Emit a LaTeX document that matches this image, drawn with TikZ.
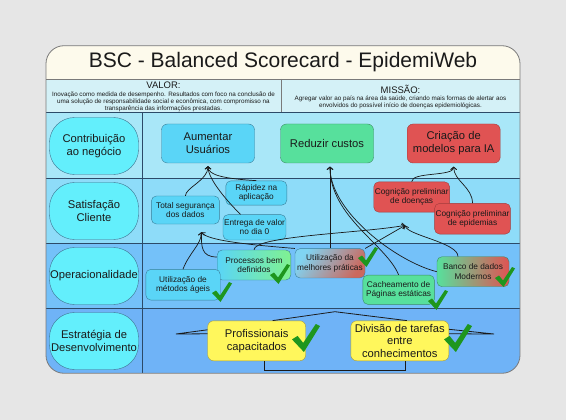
\documentclass[tikz,border=0pt]{standalone}
\usepackage{fontspec}
\setmainfont{Liberation Sans}
\usepackage{tikz}
\usetikzlibrary{arrows.meta,calc}
\definecolor{PageGray}{HTML}{E6E6E6}
\definecolor{FrameGray}{HTML}{7A7A7A}
\definecolor{TitleCream}{HTML}{FDFAEC}
\definecolor{ValorCyan}{HTML}{D4F1F7}
\definecolor{RowOne}{HTML}{A9E7F8}
\definecolor{RowTwo}{HTML}{8EDCF9}
\definecolor{RowThree}{HTML}{74C1F9}
\definecolor{RowFour}{HTML}{6FB3F7}
\definecolor{RowLine}{HTML}{2C4A68}
\definecolor{PerspCyan}{HTML}{63EFFC}
\definecolor{PerspLine}{HTML}{3D6E8A}
\definecolor{GoalBlue}{HTML}{5AD5F7}
\definecolor{GoalBlueLine}{HTML}{3A7F9A}
\definecolor{GoalGreen}{HTML}{57E09C}
\definecolor{GoalGreenLine}{HTML}{3C8C63}
\definecolor{GoalRed}{HTML}{E05353}
\definecolor{GoalRedLine}{HTML}{A23B3B}
\definecolor{PlanYellow}{HTML}{FFF75C}
\definecolor{PlanYellowLine}{HTML}{A6993A}
\definecolor{LightGreen}{HTML}{80F290}
\definecolor{PaleBlue}{HTML}{80D4F2}
\definecolor{CheckGreen}{HTML}{1E961E}
\definecolor{Ink}{HTML}{1A1A1A}
\tikzset{
  persp/.style={draw=PerspLine,fill=PerspCyan,rounded corners=25pt,minimum width=89pt,minimum height=57pt,inner sep=0pt,align=center,text=Ink,font=\fontsize{11.2}{13}\selectfont},
  goal/.style={rounded corners=6pt,minimum width=93pt,minimum height=39pt,inner sep=1pt,align=center,text=Ink,font=\fontsize{11.2}{13}\selectfont},
  goalblue/.style={goal,draw=GoalBlueLine,fill=GoalBlue},
  goalgreen/.style={goal,draw=GoalGreenLine,fill=GoalGreen},
  goalred/.style={goal,draw=GoalRedLine,fill=GoalRed},
  plan/.style={goal,draw=PlanYellowLine,fill=PlanYellow,minimum width=98pt,minimum height=40pt,font=\fontsize{11.2}{12.8}\selectfont},
  item/.style={rounded corners=5pt,inner sep=1pt,align=center,text=Ink,font=\fontsize{8.3}{9.4}\selectfont},
  itemblue/.style={item,draw=GoalBlueLine,fill=GoalBlue},
  itemgreen/.style={item,draw=GoalGreenLine,fill=GoalGreen},
  itemred/.style={item,draw=GoalRedLine,fill=GoalRed},
  headtitle/.style={text=Ink,inner sep=0pt,font=\fontsize{9.5}{11}\selectfont},
  headtext/.style={text=Ink,inner sep=0pt,align=center,font=\fontsize{6.3}{7}\selectfont},
  link/.style={-{Straight Barb[length=2.5pt,width=6pt]},line width=0.7pt,draw=Ink},
  bar/.style={line width=0.8pt,draw=Ink},
  tick/.pic={\fill[CheckGreen] (0,11) -- (4,8.5) -- (8,13.5) -- (17,0) -- (20,1.5) -- (8.5,20) -- cycle;}
}
\begin{document}
\begin{tikzpicture}[x=1pt,y=-1pt]
  \useasboundingbox (0,0) rectangle (566,420);
  \fill[PageGray] (0,0) rectangle (566,420);
  \begin{scope}
    \clip[rounded corners=18pt] (46,45.7) rectangle (520,373.3);
    \fill[TitleCream] (46,45.7) rectangle (520,79);
    \fill[ValorCyan] (46,79) rectangle (520,112.7);
    \foreach \ya/\yb/\c in {112.7/178/RowOne,178/243.7/RowTwo,243.7/308.7/RowThree,308.7/373.3/RowFour} {
      \fill[\c] (46,\ya) rectangle (520,\yb);
    }
  \end{scope}
  \draw[FrameGray,line width=0.5pt] (46,79) -- (520,79);
  \draw[FrameGray,line width=0.5pt] (281,79) -- (281,112.7);
  \foreach \y in {112.7,178,243.7,308.7} {
    \draw[RowLine,line width=0.5pt] (46,\y) -- (520,\y);
  }
  \draw[RowLine,line width=0.5pt] (142.6,112.7) -- (142.6,373.3);
  \draw[FrameGray,line width=0.8pt,rounded corners=18pt] (46,45.7) rectangle (520,373.3);

  \node[text=Ink,font=\fontsize{21}{24}\selectfont] (title) at (283,62.5) {BSC - Balanced Scorecard - EpidemiWeb};
  \node[headtitle] (valor) at (163.5,85.7) {VALOR:};
  \node[headtext] (valortext) at (163.5,101.7) {Inovação como medida de desempenho. Resultados com foco na conclusão de\\uma solução de responsabilidade social e econômica, com compromisso na\\transparência das informações prestadas.};
  \node[headtitle] (missao) at (400.5,89.3) {MISSÃO:};
  \node[headtext] (missaotext) at (400.5,102) {Agregar valor ao país na área da saúde, criando mais formas de alertar aos\\envolvidos do possível início de doenças epidemiológicas.};

  \node[persp] (contrib) at (94,146) {Contribuição\\ao negócio};
  \node[persp] (satisf) at (94,211) {Satisfação\\Cliente};
  \node[persp] (operac) at (94,276) {Operacionalidade};
  \node[persp] (estrat) at (94,341) {Estratégia de\\Desenvolvimento};

  \node[goalblue] (aumentar) at (208,143.5) {Aumentar\\Usuários};
  \node[goalgreen] (reduzir) at (327,143.5) {Reduzir custos};
  \node[goalred] (criacao) at (453.7,143.5) {Criação de\\modelos para IA};

  \node[itemblue,minimum width=61pt,minimum height=24.3pt] (rapidez) at (256.3,193) {Rápidez na\\aplicação};
  \node[itemblue,minimum width=68pt,minimum height=28pt] (seguranca) at (185.4,210) {Total segurança\\dos dados};
  \node[itemblue,minimum width=62pt,minimum height=25.3pt] (entrega) at (254.5,227.3) {Entrega de valor\\no dia 0};
  \node[itemred,minimum width=75.5pt,minimum height=30.3pt] (doencas) at (411.7,197) {Cognição preliminar\\de doenças};
  \node[itemred,minimum width=75pt,minimum height=30.7pt] (epidemias) at (472.5,218.7) {Cognição preliminar\\de epidemias};

  \node[item,draw=GoalBlueLine,left color=GoalBlue,right color=LightGreen,minimum width=73.6pt,minimum height=30pt] (processos) at (254,265) {Processos bem\\definidos};
  \node[itemblue,minimum width=74.4pt,minimum height=30.7pt] (metodos) at (183,284.7) {Utilização de\\métodos ágeis};
  \node[item,draw=GoalBlueLine,left color=PaleBlue,middle color=GoalGreen!75!white,right color=GoalRed!85!GoalGreen,shading angle=55,minimum width=70pt,minimum height=29.3pt] (praticas) at (330,263.3) {Utilização da\\melhores práticas};
  \node[itemgreen,minimum width=71.5pt,minimum height=29.3pt] (cacheamento) at (398.6,289.7) {Cacheamento de\\Páginas estáticas};
  \node[item,draw=GoalGreenLine,left color=GoalGreen,middle color=GoalGreen!85!GoalRed,right color=GoalRed,minimum width=72pt,minimum height=30pt] (banco) at (473,271.7) {Banco de dados\\Modernos};

  \node[plan] (profissionais) at (256.7,340.8) {Profissionais\\capacitados};
  \node[plan] (divisao) at (399.8,340.8) {Divisão de tarefas\\entre\\conhecimentos};

  \coordinate (aumIn) at ($(aumentar.south)+(0,3)$);
  \coordinate (segIn) at ($(seguranca.south)+(16,8)$);
  \coordinate (redIn) at ($(reduzir.south)+(3,3.5)$);
  \coordinate (cogIn) at ($(doencas.south)+(-6.5,13)$);
  \coordinate (criIn) at ($(criacao.south)+(0,3.5)$);
  \draw[link] (seguranca.north) .. controls +(0,-8) and +(0,14) .. (aumIn);
  \draw[link] (rapidez.north) .. controls +(-32,-2) and +(0,9) .. (aumIn);
  \draw[link] ([xshift=-14pt]entrega.north) .. controls +(-10,-10) and +(0,14) .. (aumIn);
  \draw[link] (metodos.north) .. controls +(6,-16) and +(0,12) .. (segIn);
  \draw[link] ([yshift=8pt]processos.west) .. controls +(-16,0) and +(0,14) .. (segIn);
  \draw[link] (praticas.north west) .. controls +(-50,-4) and +(6,8) .. (segIn);
  \draw[link] (praticas.north) -- (redIn);
  \draw[link] (cacheamento.north) .. controls +(-12,-30) and +(0,50) .. (redIn);
  \draw[link] (banco.west) .. controls +(-40,-10) and +(0,45) .. (redIn);
  \draw[link] (processos.north) .. controls +(0,-14) and +(-45,8) .. (cogIn);
  \draw[link] (praticas.north east) -- (cogIn);
  \draw[link] ([xshift=-15pt]banco.north) .. controls +(0,-14) and +(2,10) .. (cogIn);
  \draw[link] (doencas.north) .. controls +(0,-10) and +(0,10) .. (criIn);
  \draw[link] (epidemias.north) .. controls +(0,-16) and +(0,14) .. (criIn);

  \coordinate (roofTop) at (335,311.7);
  \coordinate (leftTip) at (176,334);
  \coordinate (rightTip) at (494,334);
  \draw[bar] ([xshift=16pt]profissionais.north) -- (roofTop) -- ([xshift=7pt]divisao.north);
  \draw[bar] ([yshift=11pt]profissionais.west) -- (leftTip) -- ([yshift=7pt]profissionais.west);
  \draw[bar] ([yshift=11.5pt]divisao.east) -- (rightTip) -- ([yshift=7pt]divisao.east);
  \draw[bar] ([xshift=8pt]profissionais.south) -- ++(0,9) -| ([xshift=6pt]divisao.south);

  \foreach \cx/\cy/\cs in {212/282/1,270/264/1,358/247/1,428/290/1,495/267/1,292/324/1.4,444/324/1.4} {
    \pic[scale=\cs] at (\cx,\cy) {tick};
  }
\end{tikzpicture}
\end{document}
